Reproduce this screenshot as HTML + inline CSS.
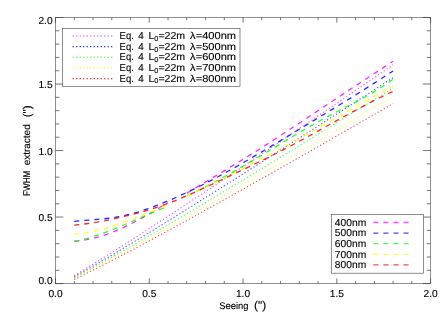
<!DOCTYPE html>
<html><head><meta charset="utf-8"><title>plot</title>
<style>
html,body{margin:0;padding:0;background:#fff;}
body{width:447px;height:319px;position:relative;overflow:hidden;}
svg text{text-rendering:geometricPrecision;font-family:"Liberation Sans",sans-serif;font-size:10.1px;fill:#000;stroke:#000;stroke-width:0.12px;}
svg .yt text{font-size:9.8px;}
</style></head><body>
<svg width="447" height="319" viewBox="0 0 447 319" style="position:absolute;left:0;top:0;will-change:transform;opacity:0.999">
<rect width="447" height="319" fill="#fff"/>
<g>
<path d="M74.25,275.51 L79.66,272.33 L85.06,269.10 L90.47,265.82 L95.87,262.50 L101.27,259.16 L106.68,255.78 L112.08,252.38 L117.49,248.96 L122.89,245.52 L128.29,242.07 L133.70,238.60 L139.10,235.12 L144.51,231.62 L149.91,228.11 L155.31,224.60 L160.72,221.07 L166.12,217.54 L171.53,213.99 L176.93,210.44 L182.33,206.89 L187.74,203.32 L193.14,199.75 L198.55,196.17 L203.95,192.59 L209.35,189.00 L214.76,185.40 L220.16,181.80 L225.57,178.20 L230.97,174.59 L236.37,170.97 L241.78,167.36 L247.18,163.73 L252.59,160.11 L257.99,156.48 L263.39,152.84 L268.80,149.21 L274.20,145.57 L279.61,141.92 L285.01,138.28 L290.41,134.63 L295.82,130.97 L301.22,127.32 L306.63,123.66 L312.03,120.00 L317.43,116.33 L322.84,112.67 L328.24,109.00 L333.65,105.32 L339.05,101.65 L344.45,97.97 L349.86,94.30 L355.26,90.61 L360.67,86.93 L366.07,83.25 L371.47,79.56 L376.88,75.87 L382.28,72.18 L387.69,68.49 L393.09,64.79" fill="none" stroke="#ff00ff" stroke-width="1.1" stroke-dasharray="1.15 2.35" stroke-opacity="0.76"/>
<path d="M74.25,276.66 L79.66,273.68 L85.06,270.66 L90.47,267.59 L95.87,264.48 L101.27,261.34 L106.68,258.17 L112.08,254.97 L117.49,251.76 L122.89,248.53 L128.29,245.28 L133.70,242.01 L139.10,238.73 L144.51,235.44 L149.91,232.13 L155.31,228.82 L160.72,225.49 L166.12,222.16 L171.53,218.82 L176.93,215.47 L182.33,212.11 L187.74,208.74 L193.14,205.37 L198.55,201.99 L203.95,198.60 L209.35,195.21 L214.76,191.81 L220.16,188.41 L225.57,185.00 L230.97,181.59 L236.37,178.17 L241.78,174.75 L247.18,171.32 L252.59,167.89 L257.99,164.46 L263.39,161.02 L268.80,157.58 L274.20,154.13 L279.61,150.68 L285.01,147.23 L290.41,143.78 L295.82,140.32 L301.22,136.86 L306.63,133.39 L312.03,129.92 L317.43,126.45 L322.84,122.98 L328.24,119.50 L333.65,116.02 L339.05,112.54 L344.45,109.06 L349.86,105.57 L355.26,102.09 L360.67,98.60 L366.07,95.10 L371.47,91.61 L376.88,88.11 L382.28,84.61 L387.69,81.11 L393.09,77.61" fill="none" stroke="#0000ff" stroke-width="1.1" stroke-dasharray="1.15 2.35" stroke-opacity="0.76"/>
<path d="M74.25,277.68 L79.66,274.84 L85.06,271.97 L90.47,269.06 L95.87,266.11 L101.27,263.14 L106.68,260.13 L112.08,257.10 L117.49,254.05 L122.89,250.98 L128.29,247.89 L133.70,244.79 L139.10,241.67 L144.51,238.54 L149.91,235.39 L155.31,232.24 L160.72,229.07 L166.12,225.90 L171.53,222.71 L176.93,219.52 L182.33,216.32 L187.74,213.11 L193.14,209.89 L198.55,206.67 L203.95,203.44 L209.35,200.21 L214.76,196.97 L220.16,193.72 L225.57,190.47 L230.97,187.21 L236.37,183.95 L241.78,180.68 L247.18,177.41 L252.59,174.14 L257.99,170.86 L263.39,167.57 L268.80,164.29 L274.20,160.99 L279.61,157.70 L285.01,154.40 L290.41,151.10 L295.82,147.79 L301.22,144.49 L306.63,141.17 L312.03,137.86 L317.43,134.54 L322.84,131.22 L328.24,127.90 L333.65,124.57 L339.05,121.25 L344.45,117.92 L349.86,114.58 L355.26,111.25 L360.67,107.91 L366.07,104.57 L371.47,101.23 L376.88,97.88 L382.28,94.53 L387.69,91.19 L393.09,87.83" fill="none" stroke="#00ff00" stroke-width="1.1" stroke-dasharray="1.15 2.35" stroke-opacity="0.76"/>
<path d="M74.25,278.63 L79.66,275.88 L85.06,273.13 L90.47,270.35 L95.87,267.53 L101.27,264.69 L106.68,261.81 L112.08,258.92 L117.49,256.00 L122.89,253.06 L128.29,250.10 L133.70,247.13 L139.10,244.15 L144.51,241.15 L149.91,238.14 L155.31,235.11 L160.72,232.08 L166.12,229.03 L171.53,225.98 L176.93,222.92 L182.33,219.85 L187.74,216.77 L193.14,213.68 L198.55,210.59 L203.95,207.49 L209.35,204.39 L214.76,201.27 L220.16,198.16 L225.57,195.03 L230.97,191.90 L236.37,188.77 L241.78,185.63 L247.18,182.49 L252.59,179.34 L257.99,176.19 L263.39,173.03 L268.80,169.87 L274.20,166.71 L279.61,163.54 L285.01,160.37 L290.41,157.20 L295.82,154.02 L301.22,150.84 L306.63,147.65 L312.03,144.46 L317.43,141.27 L322.84,138.08 L328.24,134.88 L333.65,131.68 L339.05,128.48 L344.45,125.28 L349.86,122.07 L355.26,118.86 L360.67,115.65 L366.07,112.43 L371.47,109.21 L376.88,105.99 L382.28,102.77 L387.69,99.55 L393.09,96.32" fill="none" stroke="#ffff00" stroke-width="1.1" stroke-dasharray="1.15 2.35" stroke-opacity="0.76"/>
<path d="M74.25,279.58 L79.66,276.86 L85.06,274.19 L90.47,271.50 L95.87,268.79 L101.27,266.06 L106.68,263.29 L112.08,260.51 L117.49,257.70 L122.89,254.88 L128.29,252.04 L133.70,249.18 L139.10,246.30 L144.51,243.42 L149.91,240.52 L155.31,237.60 L160.72,234.68 L166.12,231.75 L171.53,228.81 L176.93,225.85 L182.33,222.89 L187.74,219.93 L193.14,216.95 L198.55,213.97 L203.95,210.98 L209.35,207.98 L214.76,204.98 L220.16,201.97 L225.57,198.96 L230.97,195.94 L236.37,192.91 L241.78,189.88 L247.18,186.85 L252.59,183.81 L257.99,180.76 L263.39,177.72 L268.80,174.66 L274.20,171.61 L279.61,168.55 L285.01,165.49 L290.41,162.42 L295.82,159.35 L301.22,156.27 L306.63,153.20 L312.03,150.11 L317.43,147.03 L322.84,143.94 L328.24,140.85 L333.65,137.76 L339.05,134.67 L344.45,131.57 L349.86,128.47 L355.26,125.36 L360.67,122.26 L366.07,119.15 L371.47,116.04 L376.88,112.92 L382.28,109.81 L387.69,106.69 L393.09,103.57" fill="none" stroke="#ff0000" stroke-width="1.1" stroke-dasharray="1.15 2.35" stroke-opacity="0.76"/>
<path d="M74.25,241.09 L78.33,240.80 L82.41,240.34 L86.49,239.70 L90.56,238.90 L94.64,237.95 L98.72,236.86 L102.80,235.62 L106.87,234.24 L110.95,232.75 L115.03,231.13 L119.10,229.40 L123.18,227.57 L127.26,225.64 L131.34,223.62 L135.41,221.51 L139.49,219.33 L143.57,217.08 L147.64,214.77 L151.72,212.41 L155.80,209.99 L159.88,207.54 L163.95,205.05 L168.03,202.54" fill="none" stroke="#ff00ff" stroke-width="1.3" stroke-dasharray="5.1 4.97" stroke-opacity="0.85"/>
<path d="M186.78,193.08 L192.07,189.95 L197.36,186.82 L202.65,183.69 L207.94,180.55 L213.23,177.40 L218.52,174.24 L223.81,171.07 L229.10,167.88 L234.39,164.66 L239.68,161.43 L244.97,158.17 L250.26,154.88 L255.55,151.56 L260.84,148.21 L266.13,144.83 L271.42,141.42 L276.71,137.98 L282.00,134.53 L287.29,131.06 L292.58,127.57 L297.87,124.07 L303.16,120.57 L308.45,117.05 L313.74,113.54 L319.03,110.02 L324.32,106.50 L329.61,103.00 L334.90,99.49 L340.19,96.00 L345.48,92.50 L350.77,89.02 L356.06,85.53 L361.35,82.05 L366.64,78.58 L371.93,75.10 L377.22,71.63 L382.51,68.16 L387.80,64.70 L393.09,61.23" fill="none" stroke="#ff00ff" stroke-width="1.3" stroke-dasharray="5.1 4.97" stroke-opacity="0.85"/>
<path d="M74.25,221.29 L78.88,220.86 L83.50,220.48 L88.12,220.12 L92.74,219.77 L97.36,219.40 L101.98,218.99 L106.60,218.51 L111.22,217.94 L115.84,217.26 L120.46,216.44 L125.08,215.48 L129.70,214.37 L134.33,213.12 L138.95,211.75 L143.57,210.26 L148.19,208.67 L152.81,206.99 L157.43,205.22 L162.05,203.38 L166.67,201.47 L171.29,199.50 L175.91,197.48 L180.53,195.41 L185.15,193.28 L189.77,191.10 L194.40,188.87 L199.02,186.60 L203.64,184.27 L208.26,181.90 L212.88,179.49 L217.50,177.03 L222.12,174.54 L226.74,172.00 L231.36,169.43 L235.98,166.83 L240.60,164.20 L245.22,161.54 L249.85,158.86 L254.47,156.15 L259.09,153.43 L263.71,150.69 L268.33,147.93 L272.95,145.16 L277.57,142.39 L282.19,139.61 L286.81,136.82 L291.43,134.04 L296.05,131.25 L300.67,128.47 L305.29,125.68 L309.92,122.89 L314.54,120.09 L319.16,117.29 L323.78,114.49 L328.40,111.68 L333.02,108.86 L337.64,106.03 L342.26,103.19 L346.88,100.34 L351.50,97.47 L356.12,94.60 L360.74,91.70 L365.37,88.79 L369.99,85.87 L374.61,82.92 L379.23,79.96 L383.85,76.98 L388.47,73.97 L393.09,70.94" fill="none" stroke="#0000ff" stroke-width="1.3" stroke-dasharray="5.1 4.97" stroke-opacity="0.85"/>
<path d="M74.25,241.38 L78.33,240.54 L82.41,239.58 L86.49,238.51 L90.56,237.34 L94.64,236.07 L98.72,234.72 L102.80,233.30 L106.87,231.80 L110.95,230.24 L115.03,228.62 L119.10,226.96 L123.18,225.26 L127.26,223.53 L131.34,221.77 L135.41,219.99 L139.49,218.21 L143.57,216.42 L147.64,214.64 L151.72,212.88 L155.80,211.14 L159.88,209.42 L163.95,207.74 L168.03,206.11" fill="none" stroke="#00ff00" stroke-width="1.3" stroke-dasharray="5.1 4.97" stroke-opacity="0.85"/>
<path d="M186.78,195.90 L192.07,193.43 L197.36,190.88 L202.65,188.26 L207.94,185.56 L213.23,182.80 L218.52,179.97 L223.81,177.09 L229.10,174.15 L234.39,171.17 L239.68,168.14 L244.97,165.07 L250.26,161.96 L255.55,158.82 L260.84,155.65 L266.13,152.46 L271.42,149.27 L276.71,146.07 L282.00,142.87 L287.29,139.68 L292.58,136.52 L297.87,133.38 L303.16,130.28 L308.45,127.22 L313.74,124.21 L319.03,121.26 L324.32,118.38 L329.61,115.57 L334.90,112.81 L340.19,110.09 L345.48,107.37 L350.77,104.64 L356.06,101.86 L361.35,99.03 L366.64,96.10 L371.93,93.07 L377.22,89.90 L382.51,86.57 L387.80,83.05 L393.09,79.34" fill="none" stroke="#00ff00" stroke-width="1.3" stroke-dasharray="5.1 4.97" stroke-opacity="0.85"/>
<path d="M74.25,234.46 L78.33,233.98 L82.41,233.38 L86.49,232.68 L90.56,231.88 L94.64,230.98 L98.72,229.99 L102.80,228.91 L106.87,227.76 L110.95,226.53 L115.03,225.23 L119.10,223.88 L123.18,222.47 L127.26,221.01 L131.34,219.51 L135.41,217.98 L139.49,216.41 L143.57,214.82 L147.64,213.20 L151.72,211.58 L155.80,209.95 L159.88,208.32 L163.95,206.69 L168.03,205.08" fill="none" stroke="#ffff00" stroke-width="1.3" stroke-dasharray="5.1 4.97" stroke-opacity="0.85"/>
<path d="M186.78,196.27 L192.07,193.74 L197.36,191.19 L202.65,188.63 L207.94,186.06 L213.23,183.47 L218.52,180.87 L223.81,178.25 L229.10,175.61 L234.39,172.95 L239.68,170.27 L244.97,167.57 L250.26,164.85 L255.55,162.10 L260.84,159.33 L266.13,156.53 L271.42,153.72 L276.71,150.88 L282.00,148.02 L287.29,145.14 L292.58,142.24 L297.87,139.33 L303.16,136.39 L308.45,133.45 L313.74,130.49 L319.03,127.52 L324.32,124.54 L329.61,121.54 L334.90,118.54 L340.19,115.54 L345.48,112.54 L350.77,109.55 L356.06,106.56 L361.35,103.59 L366.64,100.64 L371.93,97.70 L377.22,94.80 L382.51,91.92 L387.80,89.08 L393.09,86.28" fill="none" stroke="#ffff00" stroke-width="1.3" stroke-dasharray="5.1 4.97" stroke-opacity="0.85"/>
<path d="M74.25,225.11 L78.88,224.66 L83.50,224.12 L88.12,223.50 L92.74,222.80 L97.36,222.03 L101.98,221.20 L106.60,220.30 L111.22,219.35 L115.84,218.35 L120.46,217.30 L125.08,216.22 L129.70,215.09 L134.33,213.92 L138.95,212.69 L143.57,211.40 L148.19,210.05 L152.81,208.62 L157.43,207.12 L162.05,205.55 L166.67,203.88 L171.29,202.13 L175.91,200.30 L180.53,198.40 L185.15,196.44 L189.77,194.43 L194.40,192.37 L199.02,190.28 L203.64,188.15 L208.26,186.00 L212.88,183.85 L217.50,181.68 L222.12,179.52 L226.74,177.35 L231.36,175.17 L235.98,172.99 L240.60,170.80 L245.22,168.59 L249.85,166.38 L254.47,164.14 L259.09,161.89 L263.71,159.62 L268.33,157.33 L272.95,155.02 L277.57,152.68 L282.19,150.31 L286.81,147.91 L291.43,145.48 L296.05,143.02 L300.67,140.53 L305.29,138.02 L309.92,135.50 L314.54,132.95 L319.16,130.39 L323.78,127.83 L328.40,125.27 L333.02,122.70 L337.64,120.14 L342.26,117.59 L346.88,115.05 L351.50,112.53 L356.12,110.03 L360.74,107.56 L365.37,105.11 L369.99,102.70 L374.61,100.32 L379.23,97.99 L383.85,95.70 L388.47,93.47 L393.09,91.28" fill="none" stroke="#ff0000" stroke-width="1.3" stroke-dasharray="5.1 4.97" stroke-opacity="0.85"/>
<rect x="55.5" y="17.5" width="375.1" height="266.1" fill="none" stroke="#555" stroke-width="0.65"/>
<path d="M55.50,283.6 v-5.2 M55.50,17.5 v5.2 M55.5,283.60 h7.8 M430.6,283.60 h-7.8 M74.25,283.6 v-2.6 M74.25,17.5 v2.6 M55.5,270.30 h3.9 M430.6,270.30 h-3.9 M93.01,283.6 v-2.6 M93.01,17.5 v2.6 M55.5,256.99 h3.9 M430.6,256.99 h-3.9 M111.77,283.6 v-2.6 M111.77,17.5 v2.6 M55.5,243.69 h3.9 M430.6,243.69 h-3.9 M130.52,283.6 v-2.6 M130.52,17.5 v2.6 M55.5,230.38 h3.9 M430.6,230.38 h-3.9 M149.28,283.6 v-5.2 M149.28,17.5 v5.2 M55.5,217.08 h7.8 M430.6,217.08 h-7.8 M168.03,283.6 v-2.6 M168.03,17.5 v2.6 M55.5,203.77 h3.9 M430.6,203.77 h-3.9 M186.78,283.6 v-2.6 M186.78,17.5 v2.6 M55.5,190.47 h3.9 M430.6,190.47 h-3.9 M205.54,283.6 v-2.6 M205.54,17.5 v2.6 M55.5,177.16 h3.9 M430.6,177.16 h-3.9 M224.30,283.6 v-2.6 M224.30,17.5 v2.6 M55.5,163.86 h3.9 M430.6,163.86 h-3.9 M243.05,283.6 v-5.2 M243.05,17.5 v5.2 M55.5,150.55 h7.8 M430.6,150.55 h-7.8 M261.81,283.6 v-2.6 M261.81,17.5 v2.6 M55.5,137.25 h3.9 M430.6,137.25 h-3.9 M280.56,283.6 v-2.6 M280.56,17.5 v2.6 M55.5,123.94 h3.9 M430.6,123.94 h-3.9 M299.32,283.6 v-2.6 M299.32,17.5 v2.6 M55.5,110.63 h3.9 M430.6,110.63 h-3.9 M318.07,283.6 v-2.6 M318.07,17.5 v2.6 M55.5,97.33 h3.9 M430.6,97.33 h-3.9 M336.83,283.6 v-5.2 M336.83,17.5 v5.2 M55.5,84.03 h7.8 M430.6,84.03 h-7.8 M355.58,283.6 v-2.6 M355.58,17.5 v2.6 M55.5,70.72 h3.9 M430.6,70.72 h-3.9 M374.34,283.6 v-2.6 M374.34,17.5 v2.6 M55.5,57.42 h3.9 M430.6,57.42 h-3.9 M393.09,283.6 v-2.6 M393.09,17.5 v2.6 M55.5,44.11 h3.9 M430.6,44.11 h-3.9 M411.85,283.6 v-2.6 M411.85,17.5 v2.6 M55.5,30.81 h3.9 M430.6,30.81 h-3.9 M430.60,283.6 v-5.2 M430.60,17.5 v5.2 M55.5,17.50 h7.8 M430.6,17.50 h-7.8" fill="none" stroke="#3a3a3a" stroke-width="0.7"/>
<rect x="62.4" y="28.5" width="177.6" height="57.8" fill="#fff" stroke="#505050" stroke-width="0.65"/>
<rect x="331.3" y="214.4" width="92.30000000000001" height="58.79999999999998" fill="#fff" stroke="#505050" stroke-width="0.65"/>
<path d="M72.6,35.95 H113.2" stroke="#ff00ff" stroke-width="1.15" stroke-dasharray="1.2 2.3" stroke-opacity="0.9" fill="none"/>
<text x="119.6" y="39.050000000000004" textLength="14.2" lengthAdjust="spacingAndGlyphs">Eq.</text>
<text x="138.3" y="39.050000000000004" textLength="5.5" lengthAdjust="spacingAndGlyphs">4</text>
<text x="148.4" y="39.050000000000004" textLength="36.8" lengthAdjust="spacingAndGlyphs">L<tspan style="font-size:7px" dy="1.8">0</tspan><tspan dy="-1.8">=22m</tspan></text>
<text x="190.1" y="39.050000000000004" textLength="46.0" lengthAdjust="spacingAndGlyphs">λ=400nm</text>
<path d="M72.6,46.6 H113.2" stroke="#0000ff" stroke-width="1.15" stroke-dasharray="1.2 2.3" stroke-opacity="0.9" fill="none"/>
<text x="119.6" y="49.7" textLength="14.2" lengthAdjust="spacingAndGlyphs">Eq.</text>
<text x="138.3" y="49.7" textLength="5.5" lengthAdjust="spacingAndGlyphs">4</text>
<text x="148.4" y="49.7" textLength="36.8" lengthAdjust="spacingAndGlyphs">L<tspan style="font-size:7px" dy="1.8">0</tspan><tspan dy="-1.8">=22m</tspan></text>
<text x="190.1" y="49.7" textLength="46.0" lengthAdjust="spacingAndGlyphs">λ=500nm</text>
<path d="M72.6,57.25 H113.2" stroke="#00ff00" stroke-width="1.15" stroke-dasharray="1.2 2.3" stroke-opacity="0.9" fill="none"/>
<text x="119.6" y="60.35" textLength="14.2" lengthAdjust="spacingAndGlyphs">Eq.</text>
<text x="138.3" y="60.35" textLength="5.5" lengthAdjust="spacingAndGlyphs">4</text>
<text x="148.4" y="60.35" textLength="36.8" lengthAdjust="spacingAndGlyphs">L<tspan style="font-size:7px" dy="1.8">0</tspan><tspan dy="-1.8">=22m</tspan></text>
<text x="190.1" y="60.35" textLength="46.0" lengthAdjust="spacingAndGlyphs">λ=600nm</text>
<path d="M72.6,67.9 H113.2" stroke="#ffff00" stroke-width="1.15" stroke-dasharray="1.2 2.3" stroke-opacity="0.9" fill="none"/>
<text x="119.6" y="71.0" textLength="14.2" lengthAdjust="spacingAndGlyphs">Eq.</text>
<text x="138.3" y="71.0" textLength="5.5" lengthAdjust="spacingAndGlyphs">4</text>
<text x="148.4" y="71.0" textLength="36.8" lengthAdjust="spacingAndGlyphs">L<tspan style="font-size:7px" dy="1.8">0</tspan><tspan dy="-1.8">=22m</tspan></text>
<text x="190.1" y="71.0" textLength="46.0" lengthAdjust="spacingAndGlyphs">λ=700nm</text>
<path d="M72.6,78.55 H113.2" stroke="#ff0000" stroke-width="1.15" stroke-dasharray="1.2 2.3" stroke-opacity="0.9" fill="none"/>
<text x="119.6" y="81.64999999999999" textLength="14.2" lengthAdjust="spacingAndGlyphs">Eq.</text>
<text x="138.3" y="81.64999999999999" textLength="5.5" lengthAdjust="spacingAndGlyphs">4</text>
<text x="148.4" y="81.64999999999999" textLength="36.8" lengthAdjust="spacingAndGlyphs">L<tspan style="font-size:7px" dy="1.8">0</tspan><tspan dy="-1.8">=22m</tspan></text>
<text x="190.1" y="81.64999999999999" textLength="46.0" lengthAdjust="spacingAndGlyphs">λ=800nm</text>
<path d="M373.3,222.5 H409" stroke="#ff00ff" stroke-width="1.3" stroke-dasharray="5.1 4.97" stroke-opacity="0.72" fill="none"/>
<text x="334.8" y="225.8" textLength="31.4" lengthAdjust="spacingAndGlyphs">400nm</text>
<path d="M373.3,233.1 H409" stroke="#0000ff" stroke-width="1.3" stroke-dasharray="5.1 4.97" stroke-opacity="0.72" fill="none"/>
<text x="334.8" y="236.4" textLength="31.4" lengthAdjust="spacingAndGlyphs">500nm</text>
<path d="M373.3,243.7 H409" stroke="#00ff00" stroke-width="1.3" stroke-dasharray="5.1 4.97" stroke-opacity="0.72" fill="none"/>
<text x="334.8" y="247.0" textLength="31.4" lengthAdjust="spacingAndGlyphs">600nm</text>
<path d="M373.3,254.3 H409" stroke="#ffff00" stroke-width="1.3" stroke-dasharray="5.1 4.97" stroke-opacity="0.72" fill="none"/>
<text x="334.8" y="257.6" textLength="31.4" lengthAdjust="spacingAndGlyphs">700nm</text>
<path d="M373.3,264.9 H409" stroke="#ff0000" stroke-width="1.3" stroke-dasharray="5.1 4.97" stroke-opacity="0.72" fill="none"/>
<text x="334.8" y="268.2" textLength="31.4" lengthAdjust="spacingAndGlyphs">800nm</text>
<text x="55.50" y="297.4" text-anchor="middle" textLength="14.2" lengthAdjust="spacingAndGlyphs">0.0</text>
<text x="149.28" y="297.4" text-anchor="middle" textLength="14.2" lengthAdjust="spacingAndGlyphs">0.5</text>
<text x="243.05" y="297.4" text-anchor="middle" textLength="14.2" lengthAdjust="spacingAndGlyphs">1.0</text>
<text x="336.83" y="297.4" text-anchor="middle" textLength="14.2" lengthAdjust="spacingAndGlyphs">1.5</text>
<text x="430.60" y="297.4" text-anchor="middle" textLength="14.2" lengthAdjust="spacingAndGlyphs">2.0</text>
<text x="52.6" y="284.20" text-anchor="end" textLength="14.2" lengthAdjust="spacingAndGlyphs">0.0</text>
<text x="52.6" y="221.03" text-anchor="end" textLength="14.2" lengthAdjust="spacingAndGlyphs">0.5</text>
<text x="52.6" y="154.50" text-anchor="end" textLength="14.2" lengthAdjust="spacingAndGlyphs">1.0</text>
<text x="52.6" y="87.98" text-anchor="end" textLength="14.2" lengthAdjust="spacingAndGlyphs">1.5</text>
<text x="52.6" y="24.40" text-anchor="end" textLength="14.2" lengthAdjust="spacingAndGlyphs">2.0</text>
<text x="219.3" y="308.8" style="font-size:9.6px" textLength="29.2" lengthAdjust="spacingAndGlyphs">Seeing</text>
<text x="254.0" y="309.3" style="font-size:11.4px" textLength="12.2" lengthAdjust="spacingAndGlyphs">(")</text>
<g transform="translate(30.0,150.5) rotate(-90)" class="yt"><text x="-45.4" y="0" textLength="25.2" lengthAdjust="spacingAndGlyphs">FWHM</text><text x="-14.8" y="0" textLength="41" lengthAdjust="spacingAndGlyphs">extracted</text><text x="33.2" y="0.6" textLength="11.9" lengthAdjust="spacingAndGlyphs" style="font-size:11.4px">(")</text></g>
</g></svg>
</body></html>
